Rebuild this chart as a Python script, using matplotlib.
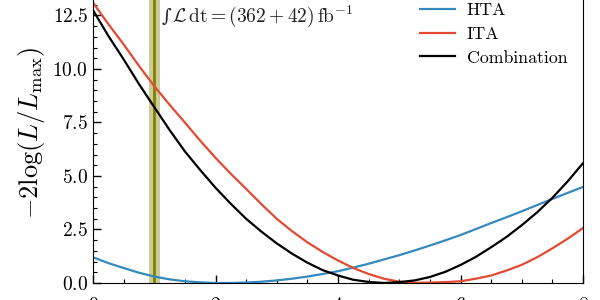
import numpy as np
import matplotlib
matplotlib.use('Agg')
import matplotlib.pyplot as plt
from matplotlib.ticker import MultipleLocator

plt.rcParams['font.family'] = 'serif'
plt.rcParams['font.serif'] = ['cmr10']
plt.rcParams['mathtext.fontset'] = 'cm'
plt.rcParams['axes.unicode_minus'] = False
plt.rcParams['axes.formatter.use_mathtext'] = True

# values
x = [0.0, 0.25, 0.5, 0.75, 1.0, 1.25, 1.5, 1.75, 2.0, 2.25, 2.5, 2.75, 3.0, 3.25, 3.5, 3.75, 4.0,
     4.25, 4.5, 4.75, 5.0, 5.25, 5.5, 5.75, 6.0, 6.25, 6.5, 6.75, 7.0, 7.25, 7.5, 7.75, 8.0]
hta = [1.2, 0.93, 0.7, 0.48, 0.3, 0.17, 0.08, 0.03, 0.0, 0.0, 0.02, 0.06, 0.12, 0.2, 0.3, 0.42, 0.55,
       0.72, 0.9, 1.1, 1.3, 1.52, 1.75, 1.99, 2.24, 2.52, 2.8, 3.07, 3.35, 3.64, 3.93, 4.21, 4.49]
ita = [13.1, 12.1, 11.15, 10.15, 9.2, 8.33, 7.5, 6.65, 5.85, 5.1, 4.4, 3.68, 3.0, 2.42, 1.9, 1.45, 1.05,
       0.7, 0.42, 0.2, 0.06, 0.01, 0.02, 0.04, 0.08, 0.2, 0.35, 0.58, 0.85, 1.2, 1.62, 2.07, 2.57]
comb = [12.75, 11.55, 10.45, 9.3, 8.22, 7.15, 6.15, 5.28, 4.45, 3.7, 3.0, 2.4, 1.85, 1.37, 0.95, 0.6, 0.35,
        0.15, 0.05, 0.0, 0.04, 0.12, 0.28, 0.52, 0.84, 1.22, 1.67, 2.15, 2.7, 3.3, 3.98, 4.75, 5.6]
names = ['HTA', 'ITA', 'Combination']
colors = ['#348ABD', '#E24A33', 'black']

lumi_x = 1.0
lumi_w = 0.09

fig = plt.figure(figsize=(6, 3), dpi=100)
ax = fig.add_axes([0.155, 0.0567, 0.8167, 0.9987])

ax.axvspan(lumi_x - lumi_w, lumi_x + lumi_w, color='#808000', alpha=0.4, lw=0)
ax.axvline(lumi_x, color='#808000', lw=2)

for ys, nm, c in zip([hta, ita, comb], names, colors):
    ax.plot(x, ys, color=c, lw=1.6, label=nm)

# small inline integral sign, then the rest in mathtext
ax.text(1.12, 12.18, '\u222b', family='DejaVu Serif', fontsize=13.5,
        va='baseline', ha='left', color='#222222')
ax.text(1.29, 12.18, r'$\mathcal{L}\,\mathrm{dt} = (362+42)\,\mathrm{fb}^{-1}$',
        fontsize=14, va='baseline', ha='left', color='#222222')

ax.set_xlim(0, 8)
ax.set_ylim(0, 14)
ax.xaxis.set_major_locator(MultipleLocator(2))
ax.xaxis.set_minor_locator(MultipleLocator(0.5))
ax.yaxis.set_major_locator(MultipleLocator(2.5))
ax.yaxis.set_minor_locator(MultipleLocator(0.5))
ax.tick_params(which='both', direction='in', labelsize=14)
ax.tick_params(which='major', length=6, width=1)
ax.tick_params(which='minor', length=3, width=0.8)
ax.tick_params(axis='x', pad=10)
ax.set_ylabel(r'$-2\log(L/L_{\max})$', fontsize=19)

ax.legend(loc='upper left', bbox_to_anchor=(420 / 600, 0.99), bbox_transform=fig.transFigure,
          frameon=False, fontsize=12.8, borderpad=0, borderaxespad=0,
          handlelength=1.97, handletextpad=0.67, labelspacing=0.46)

fig.savefig('out.png', dpi=100)
